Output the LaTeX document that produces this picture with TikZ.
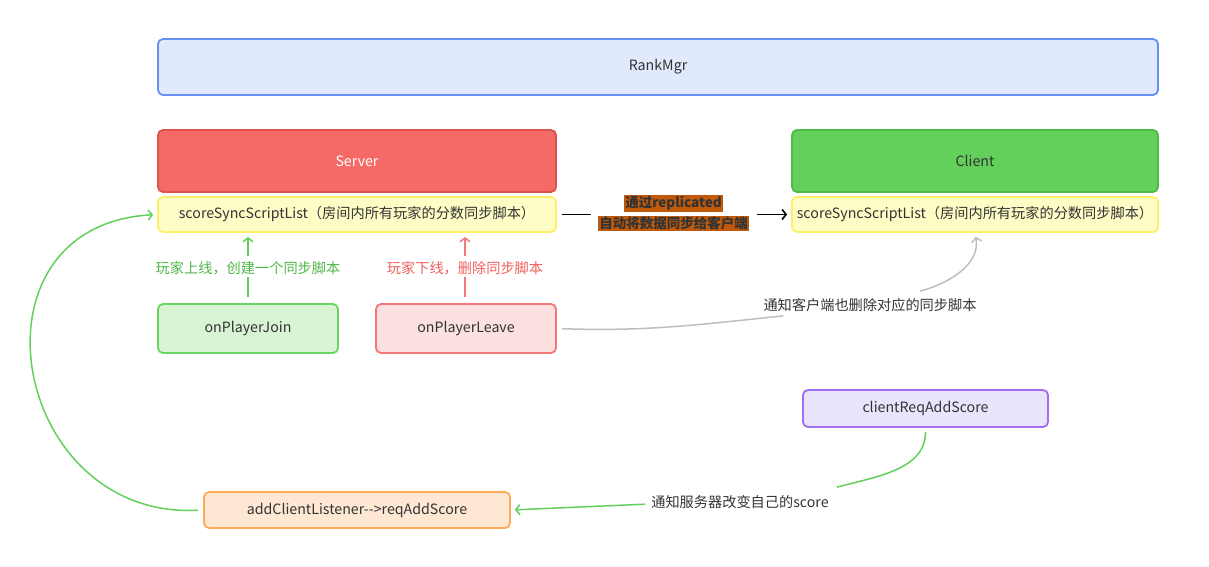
\documentclass[tikz,border=0pt]{standalone}
\usepackage{fontspec}
\setmainfont{Noto Sans CJK SC}
\usetikzlibrary{arrows.meta}

\definecolor{txtdark}{HTML}{333333}
\definecolor{rankfill}{HTML}{E1E9FD}
\definecolor{rankline}{HTML}{6690F2}
\definecolor{srvfill}{HTML}{F56A67}
\definecolor{srvline}{HTML}{D9544F}
\definecolor{clifill}{HTML}{62D05A}
\definecolor{cliline}{HTML}{4DBB45}
\definecolor{listfill}{HTML}{FFFDC6}
\definecolor{listline}{HTML}{FFEF66}
\definecolor{joinfill}{HTML}{D9F4D5}
\definecolor{joinline}{HTML}{6CD463}
\definecolor{leavefill}{HTML}{FDE0E0}
\definecolor{leaveline}{HTML}{F47878}
\definecolor{reqfill}{HTML}{EAE3FC}
\definecolor{reqline}{HTML}{A070F0}
\definecolor{lsnfill}{HTML}{FFE8D3}
\definecolor{lsnline}{HTML}{FFAA55}
\definecolor{greenline}{HTML}{62D05A}
\definecolor{greentxt}{HTML}{4FB548}
\definecolor{redtxt}{HTML}{F0605D}
\definecolor{grayline}{HTML}{BCBEC6}
\definecolor{repfill}{HTML}{C05A0A}

\tikzset{
 box/.style={draw, rounded corners=5pt, line width=1.8pt, inner sep=0pt,
  text=txtdark, font=\fontsize{14.2}{17}\selectfont},
 lbl/.style={inner sep=2pt, font=\fontsize{14.2}{17}\selectfont},
 replbl/.style={inner sep=1pt, fill=repfill, text=txtdark,
  font=\fontsize{13.5}{16}\selectfont\bfseries},
 tip/.style={-{Straight Barb[length=4pt,width=10pt]}},
}

\begin{document}
\begin{tikzpicture}[x=1pt,y=-1pt]
 \useasboundingbox (0,0) rectangle (1209,566);

 \node[box,fill=rankfill,draw=rankline,minimum width=1000pt,minimum height=56pt]
  (rank) at (658,67) {RankMgr};
 \node[box,fill=srvfill,draw=srvline,text=white,minimum width=398pt,minimum height=62pt]
  (server) at (357,161) {Server};
 \node[box,fill=listfill,draw=listline,minimum width=398pt,minimum height=35pt]
  (slist) at (357,214.5) {scoreSyncScriptList（房间内所有玩家的分数同步脚本）};
 \node[box,fill=clifill,draw=cliline,minimum width=366pt,minimum height=62pt]
  (client) at (975,161) {Client};
 \node[box,fill=listfill,draw=listline,minimum width=366pt,minimum height=35pt]
  (clist) at (975,214.5) {scoreSyncScriptList（房间内所有玩家的分数同步脚本）};
 \node[box,fill=joinfill,draw=joinline,minimum width=180pt,minimum height=49pt]
  (join) at (248,328.5) {onPlayerJoin};
 \node[box,fill=leavefill,draw=leaveline,minimum width=180pt,minimum height=49pt]
  (leave) at (466,328.5) {onPlayerLeave};
 \node[box,fill=reqfill,draw=reqline,minimum width=245pt,minimum height=37pt]
  (creq) at (925.5,408.5) {clientReqAddScore};
 \node[box,fill=lsnfill,draw=lsnline,minimum width=306pt,minimum height=36pt]
  (addl) at (357,510) {addClientListener-{}->reqAddScore};

 % labels
 \node[lbl,text=greentxt] (joinlbl) at (248,268) {玩家上线，创建一个同步脚本};
 \node[lbl,text=redtxt] (leavelbl) at (465,268) {玩家下线，删除同步脚本};
 \node[replbl] (rep1) at (673.5,203.5) {通过replicated};
 \node[replbl] (rep2) at (673.5,223.5) {自动将数据同步给客户端};
 \node[lbl,text=txtdark] (dellbl) at (870,305) {通知客户端也删除对应的同步脚本};
 \node[lbl,text=txtdark] (addlbl) at (740,502) {通知服务器改变自己的score};

 % connectors
 \draw[greenline,line width=1.5pt,shorten <=6pt] (join.north) -- (join.north |- joinlbl.south);
 \draw[greenline,line width=1.5pt,tip,shorten <=3pt,shorten >=4pt]
  (joinlbl.north) -- (joinlbl.north |- slist.south);
 \draw[leaveline,line width=1.5pt,shorten <=6pt] (leave.north -| leavelbl) -- (leavelbl.south);
 \draw[leaveline,line width=1.5pt,tip,shorten <=3pt,shorten >=4pt]
  (leavelbl.north) -- (leavelbl.north |- slist.south);

 \draw[black,line width=1.6pt,shorten <=5pt,shorten >=7pt] (slist.east) -- (slist.east -| rep2.west);
 \draw[black,line width=1.6pt,tip,shorten <=8pt,shorten >=4pt] (slist.east -| rep2.east) -- (clist.west);

 \draw[grayline,line width=1.5pt,shorten <=5pt]
  (leave.east) to[out=-2,in=186] ([xshift=22pt,yshift=-2pt]dellbl.south west);
 \draw[grayline,line width=1.5pt,tip,shorten >=4pt]
  ([xshift=50pt,yshift=5pt]dellbl.north) to[out=15,in=-80] (clist.south);

 \draw[greenline,line width=1.5pt,shorten <=4pt]
  (creq.south) to[out=-90,in=15] ([xshift=6pt,yshift=6pt]addlbl.north east);
 \draw[greenline,line width=1.5pt,tip,shorten <=4pt,shorten >=4pt]
  ([yshift=-2pt]addlbl.west) -- (addl.east);
 \draw[greenline,line width=1.5pt,tip,shorten <=5pt,shorten >=4pt]
  (addl.west) .. controls (10,520) and (-40,225) .. (slist.west);
\end{tikzpicture}
\end{document}
